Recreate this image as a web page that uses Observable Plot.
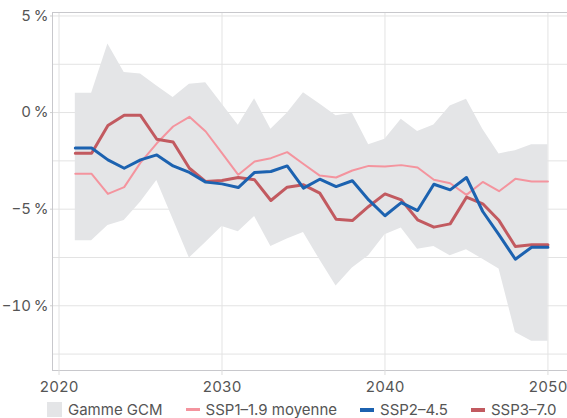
<!DOCTYPE html>
<html>
<head>
<meta charset="utf-8">
<script src="https://cdn.jsdelivr.net/npm/d3@7"></script>
<script src="https://cdn.jsdelivr.net/npm/@observablehq/plot@0.6"></script>
<style>
  html, body { margin: 0; padding: 0; background: #fff; }
  body { width: 567px; height: 418px; overflow: hidden; font-family: Inter, "Noto Sans", sans-serif; }
  #legend { display: flex; align-items: center; margin-left: 47px; margin-top: 1px; font-size: 15px; line-height: 17px; color: #555; white-space: nowrap; }
  .item { display: flex; align-items: center; margin-right: 23px; }
  .sq { width: 15px; height: 15px; background: #e4e5e7; margin-right: 6px; }
  .ln { width: 14px; height: 4px; margin-right: 6px; }
</style>
</head>
<body>
<div id="chart"></div>
<div id="legend"></div>
<script>
const years = [2021,2022,2023,2024,2025,2026,2027,2028,2029,2030,2031,2032,2033,2034,2035,2036,2037,2038,2039,2040,2041,2042,2043,2044,2045,2046,2047,2048,2049,2050];
const gcmMax = [1.0,1.0,3.55,2.07,2.0,1.38,0.78,1.47,1.55,0.45,-0.65,0.71,-0.86,-0.03,1.03,0.45,-0.16,-0.03,-1.67,-1.38,-0.34,-0.98,-0.64,0.34,0.69,-0.86,-2.14,-1.97,-1.67,-1.67];
const gcmMin = [-6.64,-6.64,-5.84,-5.59,-4.64,-3.52,-5.52,-7.53,-6.72,-5.9,-6.17,-5.38,-6.93,-6.55,-6.21,-7.62,-8.97,-8.05,-7.41,-6.33,-5.98,-7.07,-6.93,-7.41,-7.1,-7.59,-8.10,-11.38,-11.84,-11.84];
const ssp119 = [-3.17,-3.17,-4.21,-3.86,-2.59,-1.59,-0.72,-0.22,-0.98,-2.1,-3.22,-2.53,-2.36,-2.05,-2.66,-3.26,-3.36,-3.0,-2.76,-2.79,-2.72,-2.84,-3.48,-3.66,-4.26,-3.59,-4.07,-3.43,-3.57,-3.57];
const ssp245 = [-1.83,-1.83,-2.45,-2.88,-2.45,-2.19,-2.76,-3.10,-3.60,-3.69,-3.88,-3.10,-3.05,-2.76,-3.91,-3.45,-3.83,-3.53,-4.52,-5.34,-4.66,-5.07,-3.71,-4.0,-3.36,-5.12,-6.33,-7.59,-6.97,-6.97];
const ssp370 = [-2.10,-2.10,-0.67,-0.14,-0.14,-1.38,-1.52,-2.88,-3.57,-3.52,-3.36,-3.48,-4.55,-3.86,-3.74,-4.17,-5.52,-5.59,-4.86,-4.21,-4.52,-5.55,-5.93,-5.76,-4.38,-4.72,-5.59,-6.93,-6.84,-6.84];

const xTicks = [2020, 2030, 2040, 2050];
const yTicks = [-10, -5, 0, 5];
const yGrid = [-12.5, -10, -7.5, -5, -2.5, 0, 2.5, 5];
const seriesNames = ["Gamme GCM", "SSP1–1.9 moyenne", "SSP2–4.5", "SSP3–7.0"];
const colors = ["#e4e5e7", "#f4949e", "#1c62b0", "#c25a60"];

const xDomain = [2019.6, 2051.2];
const yDomain = [-13.35, 5.18];

const band = years.map((y, i) => ({year: y, lo: gcmMin[i], hi: gcmMax[i]}));
const mk = arr => years.map((y, i) => ({year: y, v: arr[i]}));

const fmtY = d => (d < 0 ? "\u2212" : "") + Math.abs(d) + "\u2009%";

const chart = Plot.plot({
  width: 567,
  height: 400,
  marginTop: 12,
  marginBottom: 30,
  marginLeft: 52,
  marginRight: 0,
  x: {domain: xDomain},
  y: {domain: yDomain},
  style: {fontFamily: "Inter, 'Noto Sans', sans-serif", fontSize: "15px", color: "#555", background: "#fff"},
  marks: [
    Plot.gridY(yGrid, {stroke: "#e3e3e3", strokeOpacity: 1}),
    Plot.gridX(xTicks, {stroke: "#e3e3e3", strokeOpacity: 1}),
    Plot.areaY(band, {x: "year", y1: "lo", y2: "hi", fill: colors[0]}),
    Plot.line(mk(ssp119), {x: "year", y: "v", stroke: colors[1], strokeWidth: 2}),
    Plot.line(mk(ssp370), {x: "year", y: "v", stroke: colors[3], strokeWidth: 3}),
    Plot.line(mk(ssp245), {x: "year", y: "v", stroke: colors[2], strokeWidth: 3}),
    Plot.ruleY([yDomain[1]], {stroke: "#c8c8cc"}),
    Plot.ruleY([yDomain[0]], {stroke: "#c8c8cc"}),
    Plot.ruleX([xDomain[0]], {stroke: "#c8c8cc"}),
    Plot.axisY(yTicks, {tickSize: 2, tickPadding: 2, tickFormat: fmtY, label: null, stroke: "#cfcfcf"}),
    Plot.axisX(xTicks, {tickSize: 5, tickPadding: 6, tickFormat: d => String(d), label: null, stroke: "#dcdcdc"})
  ]
});
document.getElementById("chart").appendChild(chart);

const legend = document.getElementById("legend");
seriesNames.forEach((name, i) => {
  const item = document.createElement("div");
  item.className = "item";
  const sw = document.createElement("div");
  sw.className = i === 0 ? "sq" : "ln";
  sw.style.background = colors[i];
  if (i === 1) sw.style.height = "3px";
  const t = document.createElement("span");
  t.textContent = name;
  item.appendChild(sw);
  item.appendChild(t);
  legend.appendChild(item);
});
</script>
</body>
</html>
